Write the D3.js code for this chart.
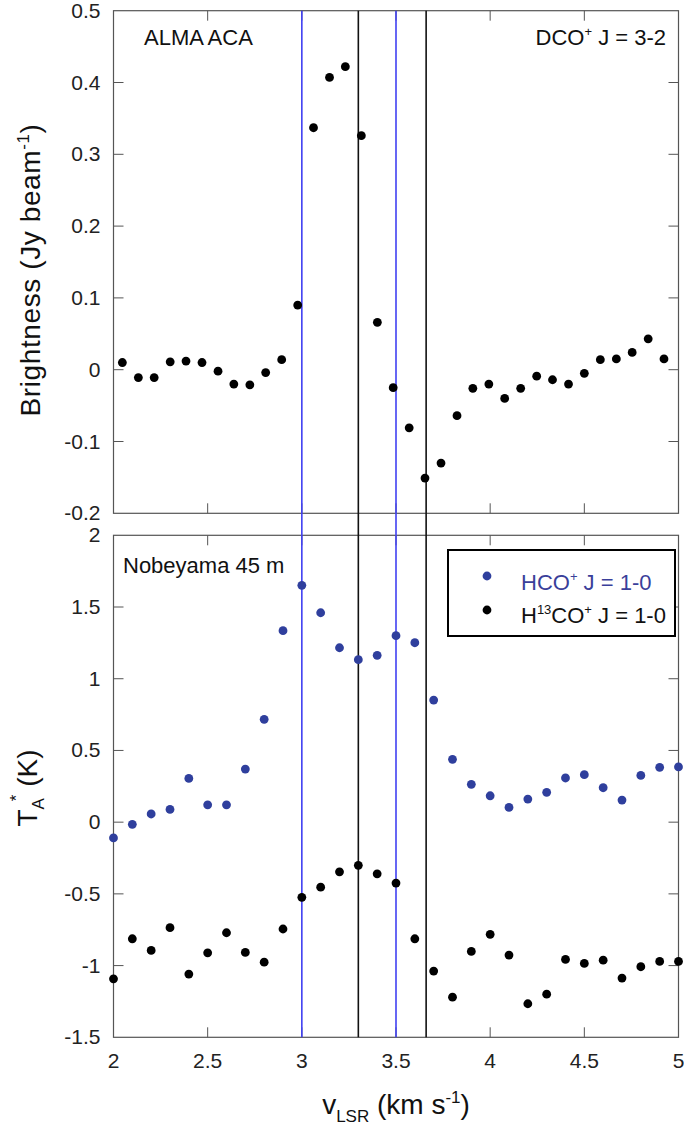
<!DOCTYPE html>
<html><head><meta charset="utf-8">
<script src="https://cdn.jsdelivr.net/npm/d3@7"></script>
<style>body{margin:0;background:#fff}svg{display:block}text{font-family:"Liberation Sans",Arial,sans-serif}</style>
</head><body><svg id="c" width="684" height="1131"></svg>
<script>
// ---- data ----
const vDCO = [2.047,2.132,2.216,2.301,2.385,2.470,2.555,2.639,2.724,2.808,2.893,2.978,3.062,3.147,3.231,3.316,3.401,3.485,3.570,3.654,3.739,3.824,3.908,3.993,4.077,4.162,4.247,4.331,4.416,4.500,4.585,4.670,4.754,4.839,4.923];
const dco = [0.010,-0.011,-0.011,0.011,0.012,0.010,-0.002,-0.020,-0.021,-0.004,0.014,0.090,0.337,0.407,0.422,0.326,0.066,-0.025,-0.081,-0.151,-0.130,-0.064,-0.026,-0.020,-0.040,-0.026,-0.009,-0.014,-0.020,-0.005,0.014,0.015,0.024,0.043,0.015];
const vNobe = [2.0,2.1,2.2,2.3,2.4,2.5,2.6,2.7,2.8,2.9,3.0,3.1,3.2,3.3,3.4,3.5,3.6,3.7,3.8,3.9,4.0,4.1,4.2,4.3,4.4,4.5,4.6,4.7,4.8,4.9,5.0];
const hco = [-0.11,-0.015,0.057,0.089,0.305,0.121,0.121,0.370,0.717,1.335,1.651,1.46,1.216,1.133,1.163,1.30,1.251,0.851,0.438,0.264,0.184,0.103,0.161,0.208,0.308,0.331,0.240,0.154,0.326,0.382,0.385];
const h13co = [-1.092,-0.813,-0.894,-0.736,-1.059,-0.911,-0.771,-0.908,-0.976,-0.745,-0.524,-0.453,-0.346,-0.301,-0.360,-0.425,-0.813,-1.038,-1.220,-0.901,-0.782,-0.927,-1.266,-1.199,-0.957,-0.985,-0.962,-1.087,-1.008,-0.971,-0.971];
const blueLines = [3.0, 3.5];
const blackLines = [3.3, 3.66];
const xTicks = [2, 2.5, 3, 3.5, 4, 4.5, 5];
const xTickLabels = ["2","2.5","3","3.5","4","4.5","5"];
const topYTicks = [-0.2,-0.1,0,0.1,0.2,0.3,0.4,0.5];
const topYLabels = ["-0.2","-0.1","0","0.1","0.2","0.3","0.4","0.5"];
const botYTicks = [-1.5,-1,-0.5,0,0.5,1,1.5,2];
const botYLabels = ["-1.5","-1","-0.5","0","0.5","1","1.5","2"];

// ---- layout ----
const svg = d3.select("#c");
const L = 113.5, R = 678.5;
const x = d3.scaleLinear().domain([2,5]).range([L,R]);
const yTop = d3.scaleLinear().domain([-0.2,0.5]).range([513.3,10.7]);
const yBot = d3.scaleLinear().domain([-1.5,2]).range([1037.3,535.3]);
const axisCol = "#555";
const blueDot = "#2f3f9d";
const FS = 21;      // tick labels
const LS = 22;      // in-plot labels
const TS = 28;      // axis titles

function panel(y, yt, ylab){
  const g = svg.append("g");
  const [y0,y1] = y.range();
  const tl = 10;
  xTicks.slice(1,-1).forEach(t=>{
    g.append("line").attr("x1",x(t)).attr("x2",x(t)).attr("y1",y0).attr("y2",y0-tl).attr("stroke",axisCol);
    g.append("line").attr("x1",x(t)).attr("x2",x(t)).attr("y1",y1).attr("y2",y1+tl).attr("stroke",axisCol);
  });
  yt.slice(1,-1).forEach(t=>{
    g.append("line").attr("x1",L).attr("x2",L+tl).attr("y1",y(t)).attr("y2",y(t)).attr("stroke",axisCol);
    g.append("line").attr("x1",R).attr("x2",R-tl).attr("y1",y(t)).attr("y2",y(t)).attr("stroke",axisCol);
  });
  g.append("rect").attr("x",L).attr("y",y1).attr("width",R-L).attr("height",y0-y1)
    .attr("fill","none").attr("stroke",axisCol).attr("stroke-width",1.2);
  yt.forEach((t,i)=>{
    g.append("text").attr("x",L-13).attr("y",y(t)+7).attr("text-anchor","end")
      .attr("font-size",FS).attr("fill","#222").text(ylab[i]);
  });
}
panel(yTop, topYTicks, topYLabels);
panel(yBot, botYTicks, botYLabels);

xTicks.forEach((t,i)=>{
  svg.append("text").attr("x",x(t)).attr("y",1068).attr("text-anchor","middle")
    .attr("font-size",FS).attr("fill","#222").text(xTickLabels[i]);
});

// vertical lines
blueLines.forEach(v=>svg.append("line").attr("x1",x(v)).attr("x2",x(v)).attr("y1",10.7).attr("y2",1037.3)
  .attr("stroke","#4040f2").attr("stroke-width",1.6));
blackLines.forEach(v=>svg.append("line").attr("x1",x(v)).attr("x2",x(v)).attr("y1",10.7).attr("y2",1037.3)
  .attr("stroke","#111").attr("stroke-width",1.6));

// points
const r = 4.4;
svg.append("g").selectAll("circle").data(dco).join("circle")
  .attr("cx",(d,i)=>x(vDCO[i])).attr("cy",d=>yTop(d)).attr("r",r).attr("fill","#000");
svg.append("g").selectAll("circle").data(hco).join("circle")
  .attr("cx",(d,i)=>x(vNobe[i])).attr("cy",d=>yBot(d)).attr("r",r).attr("fill",blueDot);
svg.append("g").selectAll("circle").data(h13co).join("circle")
  .attr("cx",(d,i)=>x(vNobe[i])).attr("cy",d=>yBot(d)).attr("r",r).attr("fill","#000");

// panel labels
svg.append("text").attr("x",144).attr("y",45).attr("font-size",LS).attr("fill","#111").text("ALMA ACA");
const dl = svg.append("text").attr("x",666).attr("y",45).attr("font-size",LS).attr("fill","#111").attr("text-anchor","end");
dl.append("tspan").text("DCO");
dl.append("tspan").attr("dy",-9).attr("font-size",13).text("+");
dl.append("tspan").attr("dy",9).text(" J = 3-2");
svg.append("text").attr("x",123).attr("y",573).attr("font-size",LS).attr("fill","#111").text("Nobeyama 45 m");

// legend
svg.append("rect").attr("x",448).attr("y",550).attr("width",227).attr("height",86)
  .attr("fill","#fff").attr("stroke","#000").attr("stroke-width",2);
svg.append("circle").attr("cx",487).attr("cy",576).attr("r",r).attr("fill",blueDot);
svg.append("circle").attr("cx",487).attr("cy",610).attr("r",r).attr("fill","#000");
const l1 = svg.append("text").attr("x",521).attr("y",590).attr("font-size",LS).attr("fill","#3a3f9a");
l1.append("tspan").text("HCO");
l1.append("tspan").attr("dy",-9).attr("font-size",13).text("+");
l1.append("tspan").attr("dy",9).text(" J = 1-0");
const l2 = svg.append("text").attr("x",521).attr("y",623).attr("font-size",LS).attr("fill","#111");
l2.append("tspan").text("H");
l2.append("tspan").attr("dy",-9).attr("font-size",13).text("13");
l2.append("tspan").attr("dy",9).text("CO");
l2.append("tspan").attr("dy",-9).attr("font-size",13).text("+");
l2.append("tspan").attr("dy",9).text(" J = 1-0");

// axis titles
const yl1 = svg.append("text").attr("transform","translate(40,270) rotate(-90)").attr("text-anchor","middle")
  .attr("font-size",TS).attr("fill","#111").attr("letter-spacing",0.6);
yl1.append("tspan").text("Brightness (Jy beam");
yl1.append("tspan").attr("dy",-11).attr("font-size",17).text("-1");
yl1.append("tspan").attr("dy",11).text(")");
const yl2 = svg.append("text").attr("transform","translate(37,788) rotate(-90)").attr("text-anchor","middle")
  .attr("font-size",TS).attr("fill","#111");
yl2.append("tspan").text("T");
yl2.append("tspan").attr("dy",7).attr("font-size",17).text("A");
yl2.append("tspan").attr("dy",-22).attr("dx",-3).attr("font-size",17).text("*");
yl2.append("tspan").attr("dy",15).text(" (K)");
const xl = svg.append("text").attr("x",396).attr("y",1114).attr("text-anchor","middle")
  .attr("font-size",TS).attr("fill","#111");
xl.append("tspan").text("v");
xl.append("tspan").attr("dy",8).attr("font-size",17).text("LSR");
xl.append("tspan").attr("dy",-8).text(" (km s");
xl.append("tspan").attr("dy",-11).attr("font-size",17).text("-1");
xl.append("tspan").attr("dy",11).text(")");
</script></body></html>
